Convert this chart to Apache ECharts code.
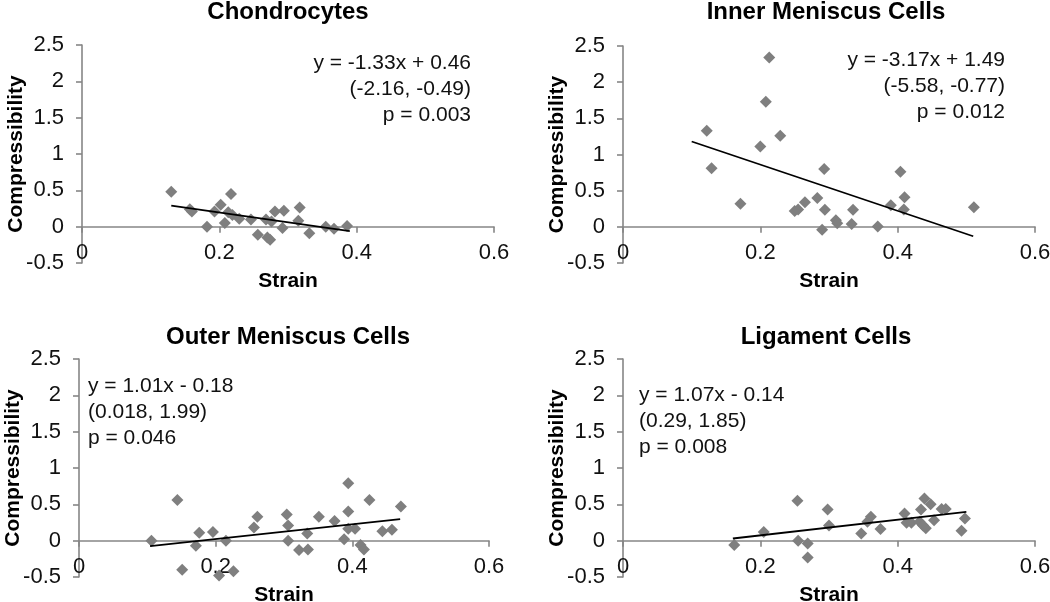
<!DOCTYPE html>
<html><head><meta charset="utf-8">
<script src="https://cdn.jsdelivr.net/npm/echarts@6/dist/echarts.min.js"></script>
<style>html,body{margin:0;padding:0;background:#fff}#c{width:1050px;height:602px;background:#fff}</style>
</head><body><div id="c"></div>
<script>
// ---- Data ----
const panelTitles = ['Chondrocytes', 'Inner Meniscus Cells', 'Outer Meniscus Cells', 'Ligament Cells'];
const xTickValues = [0, 0.2, 0.4, 0.6];
const yTickValues = [-0.5, 0, 0.5, 1, 1.5, 2, 2.5];

const chondroStrain = [0.13, 0.157, 0.16, 0.182, 0.193, 0.202, 0.208, 0.213, 0.217, 0.219, 0.229, 0.246, 0.256, 0.268, 0.27, 0.274, 0.276, 0.281, 0.292, 0.294, 0.317, 0.315, 0.331, 0.355, 0.367, 0.386];
const chondroComp   = [0.48, 0.24, 0.21, 0.0, 0.21, 0.30, 0.05, 0.20, 0.45, 0.16, 0.11, 0.10, -0.11, 0.10, -0.15, -0.18, 0.07, 0.21, -0.02, 0.22, 0.265, 0.08, -0.09, 0.0, -0.03, 0.01];
const chondroTrendX = [0.13, 0.39];
const chondroTrendY = [0.29, -0.06];
const chondroEq = ['y = -1.33x + 0.46', '(-2.16, -0.49)', 'p = 0.003'];

const innerStrain = [0.122, 0.129, 0.171, 0.200, 0.208, 0.213, 0.229, 0.25, 0.255, 0.265, 0.283, 0.290, 0.293, 0.294, 0.310, 0.312, 0.333, 0.335, 0.371, 0.39, 0.404, 0.41, 0.409, 0.511];
const innerComp   = [1.33, 0.81, 0.32, 1.11, 1.73, 2.34, 1.26, 0.22, 0.24, 0.34, 0.40, -0.04, 0.80, 0.235, 0.09, 0.05, 0.04, 0.235, 0.005, 0.30, 0.76, 0.41, 0.24, 0.27];
const innerTrendX = [0.10, 0.51];
const innerTrendY = [1.18, -0.13];
const innerEq = ['y = -3.17x + 1.49', '(-5.58, -0.77)', 'p = 0.012'];

const outerStrain = [0.106, 0.144, 0.151, 0.171, 0.176, 0.196, 0.205, 0.215, 0.226, 0.256, 0.261, 0.304, 0.306, 0.306, 0.322, 0.334, 0.335, 0.351, 0.374, 0.388, 0.394, 0.394, 0.394, 0.404, 0.412, 0.417, 0.425, 0.444, 0.458, 0.471];
const outerComp   = [0.0, 0.56, -0.40, -0.07, 0.11, 0.12, -0.48, 0.0, -0.42, 0.18, 0.33, 0.36, 0.21, 0.0, -0.13, 0.10, -0.12, 0.33, 0.27, 0.02, 0.79, 0.40, 0.165, 0.165, -0.06, -0.12, 0.56, 0.13, 0.15, 0.47];
const outerTrendX = [0.104, 0.47];
const outerTrendY = [-0.075, 0.295];
const outerEq = ['y = 1.01x - 0.18', '(0.018, 1.99)', 'p = 0.046'];

const ligStrain = [0.162, 0.205, 0.254, 0.255, 0.269, 0.269, 0.298, 0.30, 0.347, 0.356, 0.361, 0.375, 0.41, 0.413, 0.42, 0.434, 0.439, 0.432, 0.437, 0.441, 0.448, 0.453, 0.464, 0.47, 0.493, 0.498];
const ligComp   = [-0.06, 0.12, 0.55, 0.0, -0.04, -0.23, 0.43, 0.21, 0.10, 0.26, 0.33, 0.16, 0.375, 0.245, 0.245, 0.43, 0.58, 0.26, 0.21, 0.17, 0.50, 0.28, 0.435, 0.435, 0.135, 0.305];
const ligTrendX = [0.16, 0.50];
const ligTrendY = [0.03, 0.395];
const ligEq = ['y = 1.07x - 0.14', '(0.29, 1.85)', 'p = 0.008'];

// ---- Layout / styling ----
const FONT = '"Liberation Sans", Arial, sans-serif';
const AXIS_COLOR = '#868686';
const TEXT_COLOR = '#111';
const Y_MIN = yTickValues[0], Y_MAX = yTickValues[yTickValues.length - 1];
const panels = [
  {xs: chondroStrain, ys: chondroComp, tx: chondroTrendX, ty: chondroTrendY, eq: chondroEq,
   grid: {left: 82, top: 45, width: 412, height: 218}, title: [288, 12], eqPos: [471, 89], eqAlign: 'right'},
  {xs: innerStrain, ys: innerComp, tx: innerTrendX, ty: innerTrendY, eq: innerEq,
   grid: {left: 623, top: 46, width: 412, height: 217}, title: [826, 12], eqPos: [1005, 86], eqAlign: 'right'},
  {xs: outerStrain, ys: outerComp, tx: outerTrendX, ty: outerTrendY, eq: outerEq,
   grid: {left: 79, top: 359, width: 410, height: 218}, title: [288, 337], eqPos: [88, 412], eqAlign: 'left'},
  {xs: ligStrain, ys: ligComp, tx: ligTrendX, ty: ligTrendY, eq: ligEq,
   grid: {left: 623, top: 359, width: 412, height: 218}, title: [826, 337], eqPos: [639, 421], eqAlign: 'left'}
];

const grids = [], xAxes = [], yAxes = [], series = [], graphics = [];
panels.forEach((p, i) => {
  grids.push(Object.assign({outerBoundsMode: 'none'}, p.grid));
  // Excel-style: the horizontal axis (line, ticks, labels, title) crosses at y = 0
  const zeroOffset = -p.grid.height * (0 - Y_MIN) / (Y_MAX - Y_MIN);
  xAxes.push({
    gridIndex: i, type: 'value', position: 'bottom', offset: zeroOffset, z: 1,
    min: xTickValues[0], max: xTickValues[xTickValues.length - 1], interval: 0.2,
    axisLine: {show: true, onZero: false, lineStyle: {color: AXIS_COLOR, width: 1.6}},
    axisTick: {show: true, inside: false, length: 6, lineStyle: {color: AXIS_COLOR, width: 1.6}},
    splitLine: {show: false},
    axisLabel: {fontSize: 22, color: TEXT_COLOR, fontFamily: FONT, margin: 15, showMinLabel: true, showMaxLabel: true, hideOverlap: false},
    name: 'Strain', nameLocation: 'middle', nameGap: 44, nameMoveOverlap: false,
    nameTextStyle: {fontSize: 21, fontWeight: 'bold', color: '#000', fontFamily: FONT}
  });
  yAxes.push({
    gridIndex: i, type: 'value', position: 'left', z: 1,
    min: Y_MIN, max: Y_MAX, interval: 0.5,
    axisLine: {show: true, onZero: false, lineStyle: {color: AXIS_COLOR, width: 1.6}},
    axisTick: {show: true, inside: false, length: 6, lineStyle: {color: AXIS_COLOR, width: 1.6}},
    splitLine: {show: false},
    axisLabel: {fontSize: 22, color: TEXT_COLOR, fontFamily: FONT, margin: 18, showMinLabel: true, showMaxLabel: true, hideOverlap: false},
    name: 'Compressibility', nameLocation: 'middle', nameGap: 55, nameRotate: 90, nameMoveOverlap: false,
    nameTextStyle: {fontSize: 21, fontWeight: 'bold', color: '#000', fontFamily: FONT}
  });
  series.push({
    type: 'scatter', xAxisIndex: i, yAxisIndex: i,
    symbol: 'diamond', symbolSize: [12, 12],
    itemStyle: {color: '#7f7f7f', opacity: 1},
    data: p.xs.map((x, k) => [x, p.ys[k]]),
    z: 2
  });
  series.push({
    type: 'line', xAxisIndex: i, yAxisIndex: i,
    showSymbol: false, symbol: 'none',
    lineStyle: {color: '#000', width: 1.8},
    data: p.tx.map((x, k) => [x, p.ty[k]]),
    z: 3, silent: true
  });
  graphics.push({
    type: 'text', x: p.title[0], y: p.title[1],
    style: {text: panelTitles[i], fontSize: 24, fontWeight: 'bold', fontFamily: FONT, fill: '#000',
            align: 'center', verticalAlign: 'middle'}
  });
  graphics.push({
    type: 'text', x: p.eqPos[0], y: p.eqPos[1],
    style: {text: p.eq.join('\n'), fontSize: 21, fontFamily: FONT, fill: TEXT_COLOR, lineHeight: 26,
            align: p.eqAlign, verticalAlign: 'middle'}
  });
});

const chart = echarts.init(document.getElementById('c'), null, {renderer: 'canvas'});
chart.setOption({
  animation: false,
  grid: grids, xAxis: xAxes, yAxis: yAxes, series: series,
  graphic: graphics
});
</script></body></html>
